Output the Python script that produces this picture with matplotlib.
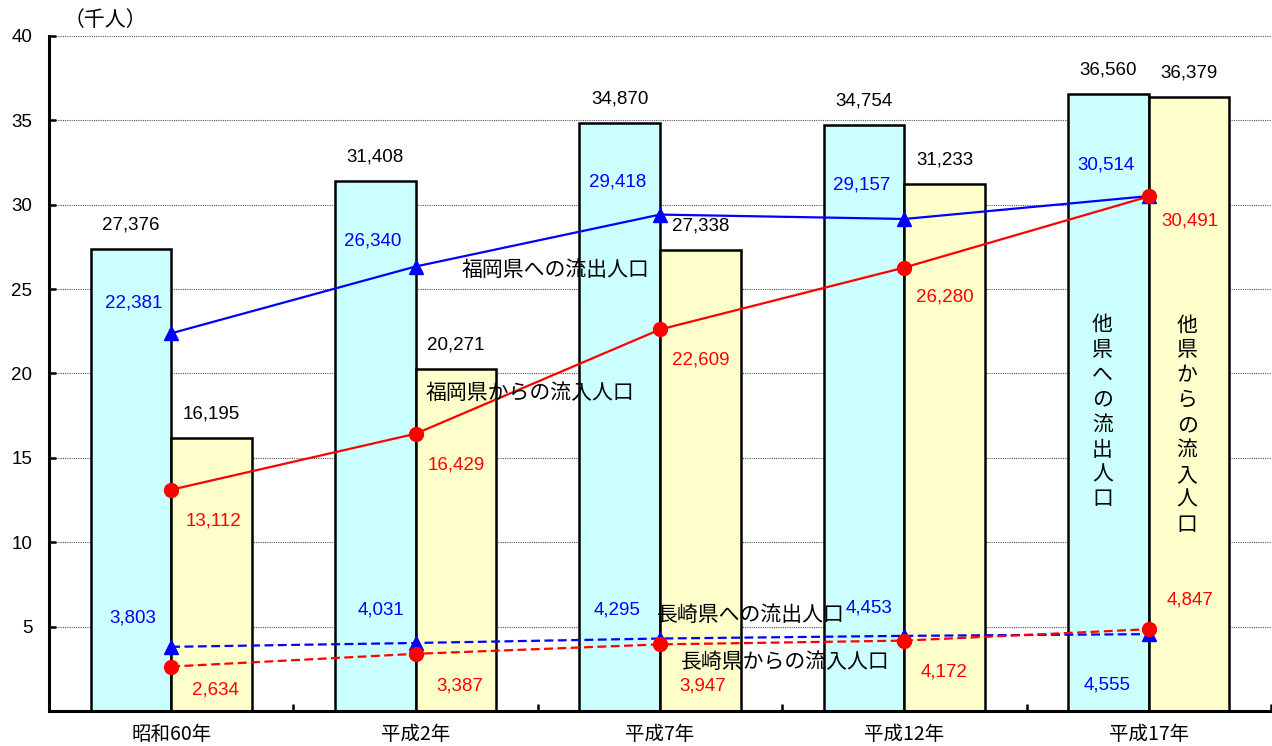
import matplotlib
matplotlib.use("Agg")
import matplotlib.pyplot as plt
import numpy as np

plt.rcParams['font.family'] = ['Noto Sans CJK JP', 'DejaVu Sans']

categories = ["昭和60年", "平成2年", "平成7年", "平成12年", "平成17年"]
outflow_total = [27376, 31408, 34870, 34754, 36560]
inflow_total = [16195, 20271, 27338, 31233, 36379]
fukuoka_out = [22381, 26340, 29418, 29157, 30514]
fukuoka_in = [13112, 16429, 22609, 26280, 30491]
nagasaki_out = [3803, 4031, 4295, 4453, 4555]
nagasaki_in = [2634, 3387, 3947, 4172, 4847]
yticks = [5, 10, 15, 20, 25, 30, 35, 40]

# label offsets (pixels) -- styling only
off_fk_out = [(-38, 30), (-43, 26), (-42, 33), (-43, 34), (-43, 31)]
off_fk_in = [(42, -31), (41, -31), (41, -31), (40, -29), (41, -25)]
off_ng_out = [(-38, 29), (-35, 33), (-43, 29), (-35, 28), (-42, -51)]
off_ng_in = [(44, -23), (44, -32), (43, -42), (40, -31), (41, 29)]

W, H = 1272, 746
fig = plt.figure(figsize=(W / 100, H / 100), dpi=100)
ax = fig.add_axes([49 / W, 1 - 711 / H, (1271 - 49) / W, (711 - 36) / H])

x = np.arange(len(categories))
bw = 0.33
cyan = "#CCFFFF"
yellow = "#FFFFCC"
blue = "#0000FF"
red = "#FF0000"
numfont = ['Liberation Sans', 'DejaVu Sans']

to_k = lambda v: np.array(v) / 1000.0

ax.bar(x - bw / 2, to_k(outflow_total), bw, color=cyan, edgecolor="black", linewidth=1.8, zorder=2)
ax.bar(x + bw / 2, to_k(inflow_total), bw, color=yellow, edgecolor="black", linewidth=1.8, zorder=2)

ax.plot(x, to_k(fukuoka_out), color=blue, lw=1.6, marker="^", ms=9.5, zorder=4)
ax.plot(x, to_k(fukuoka_in), color=red, lw=1.6, marker="o", ms=10, zorder=4)
ax.plot(x, to_k(nagasaki_out), color=blue, lw=1.6, ls=(0, (4, 2)), marker="^", ms=9.5, zorder=4)
ax.plot(x, to_k(nagasaki_in), color=red, lw=1.6, ls=(0, (4, 2)), marker="o", ms=10, zorder=4)

fs = 13.5


def lab(xv, v, off, color):
    ax.annotate(f"{v:,}", (xv, v / 1000), xytext=off, textcoords="offset pixels",
                ha="center", va="center", fontsize=fs, color=color, family=numfont, zorder=5)


for i in range(len(x)):
    lab(x[i] - bw / 2, outflow_total[i], (0, 24), "black")
    lab(x[i] + bw / 2, inflow_total[i], (0, 24), "black")
    lab(x[i], fukuoka_out[i], off_fk_out[i], blue)
    lab(x[i], fukuoka_in[i], off_fk_in[i], red)
    lab(x[i], nagasaki_out[i], off_ng_out[i], blue)
    lab(x[i], nagasaki_in[i], off_ng_in[i], red)

lfs = 15
ax.text(1.573, 26.13, "福岡県への流出人口", ha="center", va="center", fontsize=lfs, zorder=6)
ax.text(1.466, 18.84, "福岡県からの流入人口", ha="center", va="center", fontsize=lfs, zorder=6)
ax.text(2.370, 5.69, "長崎県への流出人口", ha="center", va="center", fontsize=lfs, zorder=6)
ax.text(2.513, 2.9, "長崎県からの流入人口", ha="center", va="center", fontsize=lfs, zorder=6)
ax.text(3.81, 17.7, "\n".join("他県への流出人口"), ha="center", va="center", fontsize=lfs,
        linespacing=1.17, zorder=6)
ax.text(4.157, 16.95, "\n".join("他県からの流入人口"), ha="center", va="center", fontsize=lfs,
        linespacing=1.17, zorder=6)

fig.text(105 / W, 1 - 20 / H, "（千人）", ha="center", va="center", fontsize=15)

ax.set_xlim(-0.5, len(categories) - 0.5)
ax.set_ylim(0, 40)
ax.set_yticks(yticks)
ax.set_yticklabels([str(t) for t in yticks], fontsize=13.5, family=numfont)
ax.set_xticks(x)
ax.set_xticklabels(categories, fontsize=14)
ax.set_xticks(np.arange(len(categories) + 1) - 0.5, minor=True)
ax.tick_params(axis="x", which="major", length=0, pad=9)
ax.tick_params(axis="x", which="minor", direction="in", length=5, width=1.8)
ax.tick_params(axis="y", direction="in", length=5, width=1.8, pad=12)
ax.yaxis.grid(True, ls=(0, (1, 1)), color="#555555", lw=0.8, zorder=0)
ax.set_axisbelow(True)
for s in ["top", "right"]:
    ax.spines[s].set_visible(False)
ax.spines["left"].set_linewidth(2.2)
ax.spines["bottom"].set_linewidth(2.2)

fig.savefig("out.png", dpi=100)
